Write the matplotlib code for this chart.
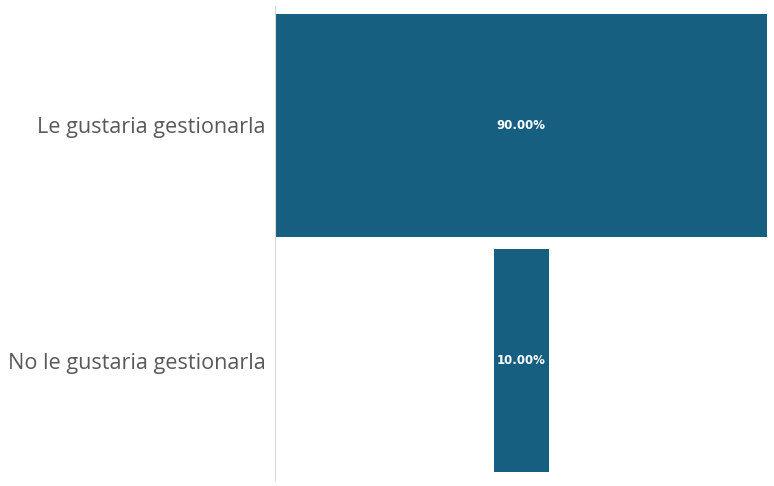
import numpy as np
import matplotlib.pyplot as plt

categories = ["Le gustaria gestionarla", "No le gustaria gestionarla"]
values = [90.0, 10.0]
value_labels = ["90.00%", "10.00%"]

bar_color = "#175F80"

fig = plt.figure(figsize=(7.74, 4.86), dpi=100)
ax = fig.add_axes([275 / 774, 6 / 486, 492 / 774, 474 / 486])

y = np.arange(len(categories))
vals = np.array(values)
ax.barh(y, vals, left=-vals / 2, height=0.945, color=bar_color)

for yi, lab in zip(y, value_labels):
    ax.text(0, yi, lab, ha="center", va="center", color="white",
            fontsize=8.5, fontweight="bold", family="DejaVu Sans")

ax.set_xlim(-45.1, 45)
ax.set_ylim(1.506, -0.506)
ax.set_yticks(y)
ax.set_yticklabels(categories, fontsize=15.6, color="#595959", family="Open Sans")
ax.tick_params(axis="y", length=0, pad=7)
ax.set_xticks([])
for s in ["top", "right", "bottom"]:
    ax.spines[s].set_visible(False)
ax.spines["left"].set_color("#D9D9D9")
ax.spines["left"].set_linewidth(0.8)

fig.savefig("out.png", dpi=100)
